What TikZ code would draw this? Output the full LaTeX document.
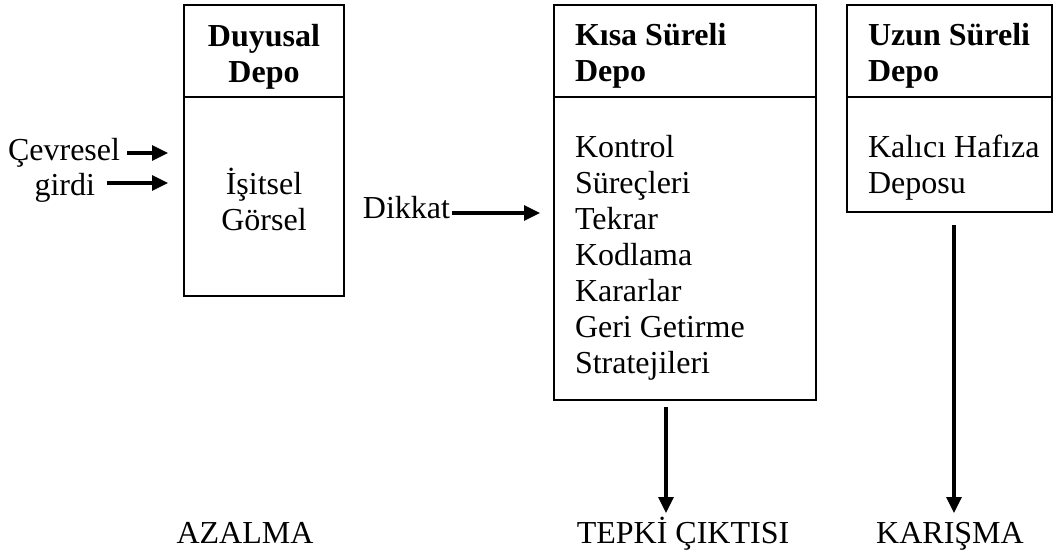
\documentclass[tikz,border=0pt]{standalone}
\usepackage{fontspec}
\setmainfont{Liberation Serif}
\usetikzlibrary{arrows.meta}

\begin{document}
\begin{tikzpicture}[x=0.5pt,y=-0.5pt,
  store/.style={draw,line width=0.6pt,inner sep=0pt,outer sep=0pt,anchor=north west},
  txt/.style={inner sep=0pt,outer sep=0pt,font=\fontsize{16pt}{18pt}\selectfont},
  head/.style={txt,font=\fontsize{16pt}{18pt}\selectfont\bfseries},
  arr/.style={line width=1.6pt,-{Triangle[length=8pt,width=7.5pt]}}]
  \useasboundingbox (0,0) rectangle (1054,552);

  % Stores
  \node[store,minimum width=80pt,minimum height=145.5pt] (duyusal) at (184,5) {};
  \node[store,minimum width=131pt,minimum height=197.5pt] (kisa) at (554,5) {};
  \node[store,minimum width=102.5pt,minimum height=103.5pt] (uzun) at (847,5) {};

  % Header rules
  \draw[line width=0.6pt] (duyusal.west |- 0,97) -- (duyusal.east |- 0,97);
  \draw[line width=0.6pt] (kisa.west |- 0,97) -- (kisa.east |- 0,97);
  \draw[line width=0.6pt] (uzun.west |- 0,97) -- (uzun.east |- 0,97);

  % Store texts
  \node[head,align=center,anchor=north] (duyusalH) at (264,24) {Duyusal\\Depo};
  \node[txt,align=center,anchor=north] (duyusalB) at (264,168) {İşitsel\\Görsel};
  \node[head,align=left,anchor=north west] (kisaH) at (575,23) {Kısa Süreli\\Depo};
  \node[txt,align=left,anchor=north west] (kisaB) at (575,135)
    {Kontrol\\Süreçleri\\Tekrar\\Kodlama\\Kararlar\\Geri Getirme\\Stratejileri};
  \node[head,align=left,anchor=north west] (uzunH) at (868,23) {Uzun Süreli\\Depo};
  \node[txt,align=left,anchor=north west] (uzunB) at (868,135) {Kalıcı Hafıza\\Deposu};

  % Inputs
  \node[txt,anchor=base east] (cevresel) at (120,160) {Çevresel};
  \node[txt,anchor=base east] (girdi) at (95,195) {girdi};
  \node[txt,anchor=base east] (dikkat) at (450,218) {Dikkat};
  \coordinate (cevTip) at (168,153);
  \coordinate (girdiTip) at (168,183);
  \coordinate (dikkatTip) at (540,213);
  \draw[arr] ([shift={(7,-7)}]cevresel.base east) -- (cevTip);
  \draw[arr] ([shift={(12,-12)}]girdi.base east) -- (girdiTip);
  \draw[arr] ([shift={(2,-5)}]dikkat.base east) -- (dikkatTip);

  % Outputs
  \node[txt,anchor=base] (azalma) at (245,543) {AZALMA};
  \node[txt,anchor=base] (tepki) at (683,543) {TEPKİ ÇIKTISI};
  \node[txt,anchor=base] (karisma) at (950,543) {KARIŞMA};
  \draw[arr] ([shift={(-19,7)}]kisa.south) -- ++(0,106);
  \draw[arr] ([shift={(4.5,13)}]uzun.south) -- ++(0,288);
\end{tikzpicture}
\end{document}
